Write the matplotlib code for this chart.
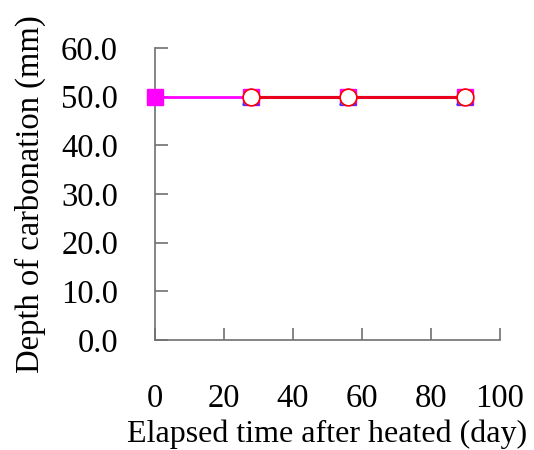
import matplotlib
matplotlib.use("Agg")
import matplotlib.pyplot as plt

plt.rcParams['font.family'] = ['Liberation Serif', 'DejaVu Serif']

# carbonation depth readings (mm) against days after heating
days_ref = [0, 28, 56, 90]
depth_ref = [50.0, 50.0, 50.0, 50.0]
days_a = [28, 56, 90]
depth_a = [50.0, 50.0, 50.0]
days_b = [28, 56, 90]
depth_b = [50.0, 50.0, 50.0]

x_ticks = [0, 20, 40, 60, 80, 100]
y_ticks = [0, 10, 20, 30, 40, 50, 60]

fig = plt.figure(figsize=(5.34, 4.5), dpi=100)
ax = fig.add_axes([0.290, 0.2444, 0.646, 0.6489])

ax.plot(days_ref, depth_ref, color='#ff00ff', lw=2, marker='s', ms=12,
        mfc='#ff00ff', mec='#ff00ff', clip_on=False, zorder=3)
ax.plot(days_a, depth_a, color='#3333ff', lw=1.5, marker='^', ms=12,
        mfc='white', mec='#3333ff', mew=1.2, clip_on=False, zorder=4)
ax.plot(days_b, depth_b, color='#e8001c', lw=2.2, marker='o', ms=12,
        mfc='white', mec='#ff0000', mew=1.2, clip_on=False, zorder=5)

ax.set_xlim(0, 100)
ax.set_ylim(0, 60)
ax.set_xticks(x_ticks)
ax.set_yticks(y_ticks)
ax.set_yticklabels([f"{v:.1f}" for v in y_ticks])

for side in ['top', 'right']:
    ax.spines[side].set_visible(False)
for side in ['left', 'bottom']:
    ax.spines[side].set_color('#707070')
    ax.spines[side].set_linewidth(1.2)

ax.tick_params(axis='both', direction='in', length=9, width=1.2, color='#707070',
               labelsize=23.5)
ax.tick_params(axis='x', pad=31)
ax.tick_params(axis='y', pad=26.5)

ax.set_xlabel('Elapsed time after heated (day)', fontsize=23, labelpad=4)
ax.set_ylabel('Depth of carbonation (mm)', fontsize=23.5, labelpad=11)

fig.savefig('out.png', dpi=100)
